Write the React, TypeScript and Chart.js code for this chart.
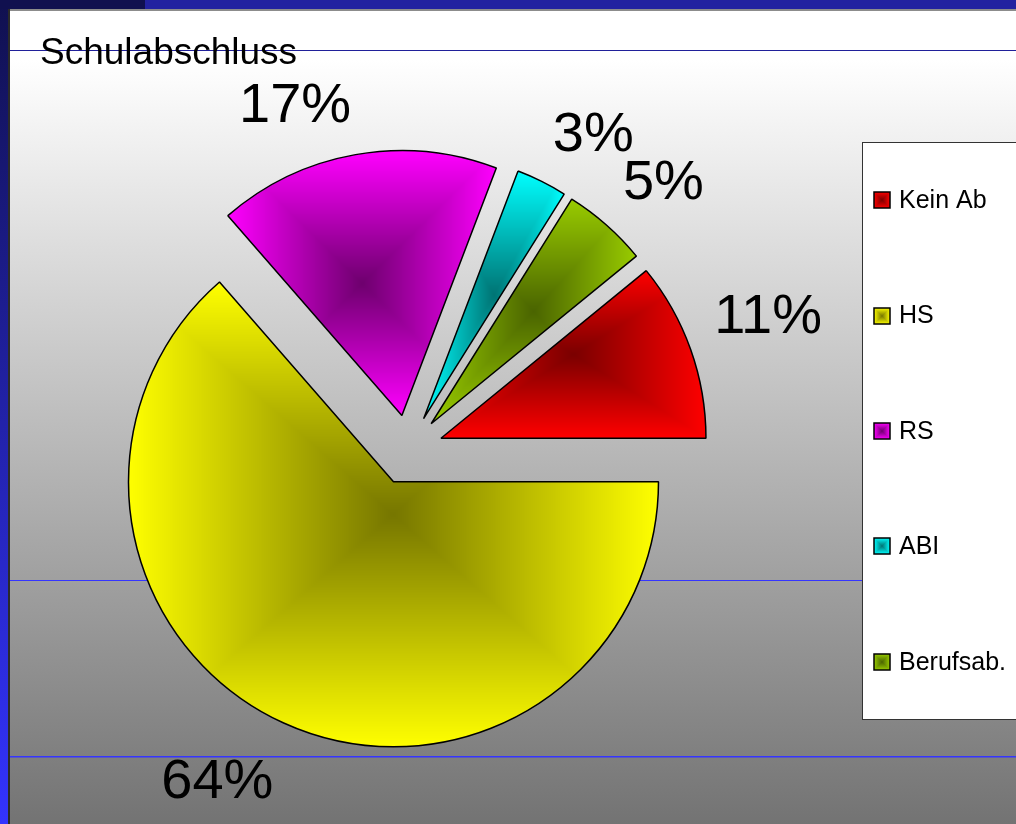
import React, { useEffect, useRef } from "react";
import { Chart, registerables } from "chart.js";

Chart.register(...registerables);

// ---------- data ----------
const TITLE = "Schulabschluss";
const categories = ["Kein Ab", "HS", "RS", "ABI", "Berufsab."];
const shares = [10.9, 63.6, 17.2, 3.1, 5.2];
const edgeColors = ["#ff0000", "#ffff00", "#ff00ff", "#00ffff", "#99cc00"];
const coreColors = ["#7a0000", "#767600", "#6e006e", "#007474", "#4a6400"];

// ---------- layout / style ----------
const W = 1016;
const H = 824;
const RADIUS = 265;
const EXPLODE = 35;
const LABEL_GAP = 25;
const LABEL_HALF_H = 30;
const FONT = "'Liberation Sans', Arial, Helvetica, sans-serif";
const total0 = shares.reduce((a, b) => a + b, 0);
// first slice ends at 3 o'clock, slices run clockwise
const ROTATION = 90 - (360 * shares[0]) / total0;

function hexToRgb(h: string): number[] {
  const s = h.replace("#", "");
  return [0, 2, 4].map((i) => parseInt(s.slice(i, i + 2), 16));
}

// rectangular ("path") gradient: dark core in the middle of the box, bright at the box edges
function rectGradientCanvas(bx: number, by: number, w: number, h: number, core: string, edge: string, pad: number) {
  const cw = Math.max(1, Math.ceil(w + pad * 2));
  const ch = Math.max(1, Math.ceil(h + pad * 2));
  const c = document.createElement("canvas");
  c.width = cw;
  c.height = ch;
  const g = c.getContext("2d")!;
  const img = g.createImageData(cw, ch);
  const a = hexToRgb(core);
  const b = hexToRgb(edge);
  const cx = bx + w / 2;
  const cy = by + h / 2;
  const hx = Math.max(w / 2, 0.5);
  const hy = Math.max(h / 2, 0.5);
  for (let py = 0; py < ch; py++) {
    const y = by - pad + py + 0.5;
    for (let px = 0; px < cw; px++) {
      const x = bx - pad + px + 0.5;
      const t = Math.min(1, Math.max(Math.abs(x - cx) / hx, Math.abs(y - cy) / hy));
      const k = (py * cw + px) * 4;
      img.data[k] = Math.round(a[0] + (b[0] - a[0]) * t);
      img.data[k + 1] = Math.round(a[1] + (b[1] - a[1]) * t);
      img.data[k + 2] = Math.round(a[2] + (b[2] - a[2]) * t);
      img.data[k + 3] = 255;
    }
  }
  g.putImageData(img, 0, 0);
  return c;
}

function makePattern(ctx: CanvasRenderingContext2D, bx: number, by: number, w: number, h: number, core: string, edge: string) {
  const pad = 3;
  const c = rectGradientCanvas(bx, by, w, h, core, edge, pad);
  const p = ctx.createPattern(c, "no-repeat")!;
  p.setTransform(new DOMMatrix([1, 0, 0, 1, bx - pad, by - pad]));
  return p;
}

const patternCache: Record<string, CanvasPattern> = {};

function slicePattern(context: any) {
  const chart = context.chart;
  const i = context.dataIndex;
  const area = chart.chartArea;
  if (!area) return edgeColors[i];
  const data: number[] = chart.data.datasets[0].data;
  const total = data.reduce((s, v) => s + v, 0);
  const cx = (area.left + area.right) / 2;
  const cy = (area.top + area.bottom) / 2;
  let a0 = ((ROTATION - 90) * Math.PI) / 180;
  for (let j = 0; j < i; j++) a0 += (data[j] / total) * Math.PI * 2;
  const a1 = a0 + (data[i] / total) * Math.PI * 2;
  const r = RADIUS;
  const pts: number[][] = [
    [cx, cy],
    [cx + r * Math.cos(a0), cy + r * Math.sin(a0)],
    [cx + r * Math.cos(a1), cy + r * Math.sin(a1)],
  ];
  const q = Math.PI / 2;
  for (let k = Math.ceil(a0 / q - 1e-9); k * q < a1 - 1e-9; k++) {
    pts.push([cx + r * Math.cos(k * q), cy + r * Math.sin(k * q)]);
  }
  const xs = pts.map((p) => p[0]);
  const ys = pts.map((p) => p[1]);
  const bx = Math.min(...xs);
  const by = Math.min(...ys);
  const w = Math.max(...xs) - bx;
  const h = Math.max(...ys) - by;
  const key = [i, bx, by, w, h].map((v) => Math.round(v)).join("_");
  if (!patternCache[key]) {
    patternCache[key] = makePattern(chart.ctx, bx, by, w, h, coreColors[i], edgeColors[i]);
  }
  return patternCache[key];
}

const decorPlugin = {
  id: "decor",
  beforeDraw(chart: any) {
    const ctx: CanvasRenderingContext2D = chart.ctx;
    ctx.save();
    // slide background
    const bg = ctx.createLinearGradient(0, 60, 0, H);
    bg.addColorStop(0, "#ffffff");
    bg.addColorStop(1, "#737373");
    ctx.fillStyle = bg;
    ctx.fillRect(0, 0, W, H);
    // frame
    ctx.fillStyle = "#10104f";
    ctx.fillRect(0, 0, 145, 9);
    ctx.fillStyle = "#2222a0";
    ctx.fillRect(145, 0, W - 145, 9);
    const lg = ctx.createLinearGradient(0, 0, 0, H);
    lg.addColorStop(0, "#10104f");
    lg.addColorStop(1, "#3333ff");
    ctx.fillStyle = lg;
    ctx.fillRect(0, 9, 8, H - 9);
    ctx.fillStyle = "#8c8c8c";
    ctx.fillRect(8, 9, W - 8, 2);
    ctx.fillStyle = "#2a2a2a";
    ctx.fillRect(8, 9, 2, H - 9);
    // template lines
    ctx.fillStyle = "#20209a";
    ctx.fillRect(10, 50, W - 10, 1);
    ctx.fillStyle = "#3535ff";
    ctx.fillRect(10, 580, W - 10, 1);
    ctx.fillRect(10, 756, W - 10, 1.5);
    ctx.restore();
  },
  beforeDatasetsDraw(chart: any) {
    const ctx: CanvasRenderingContext2D = chart.ctx;
    const meta = chart.getDatasetMeta(0);
    meta.data.forEach((arc: any) => {
      const { startAngle, endAngle } = arc.getProps(["startAngle", "endAngle"], true);
      const mid = (startAngle + endAngle) / 2;
      ctx.save();
      ctx.translate(Math.cos(mid) * EXPLODE, Math.sin(mid) * EXPLODE);
      arc.draw(ctx);
      ctx.restore();
    });
    return false;
  },
  afterDraw(chart: any) {
    const ctx: CanvasRenderingContext2D = chart.ctx;
    const meta = chart.getDatasetMeta(0);
    const data: number[] = chart.data.datasets[0].data;
    const total = data.reduce((s, v) => s + v, 0);
    ctx.save();
    // title
    ctx.fillStyle = "#000";
    ctx.font = `37px ${FONT}`;
    ctx.textAlign = "left";
    ctx.textBaseline = "alphabetic";
    ctx.fillText(TITLE, 40, 64);
    // percentage labels (outside end, box corner anchored on the ray)
    ctx.font = `56px ${FONT}`;
    ctx.textAlign = "center";
    ctx.textBaseline = "middle";
    meta.data.forEach((arc: any, i: number) => {
      const { x, y, startAngle, endAngle, outerRadius } = arc.getProps(
        ["x", "y", "startAngle", "endAngle", "outerRadius"],
        true
      );
      const mid = (startAngle + endAngle) / 2;
      const d = outerRadius + EXPLODE + LABEL_GAP;
      const txt = Math.round((data[i] / total) * 100) + "%";
      const tw = ctx.measureText(txt).width;
      const ax = x + Math.cos(mid) * d;
      const ay = y + Math.sin(mid) * d;
      const lx = ax + Math.sign(Math.cos(mid)) * tw / 2;
      const ly = ay + Math.sign(Math.sin(mid)) * LABEL_HALF_H;
      ctx.fillText(txt, lx, ly + 7);
    });
    // legend
    const bx = 862.5;
    const by = 142.5;
    const bw = 200;
    const bh = 577;
    ctx.fillStyle = "#ffffff";
    ctx.fillRect(bx, by, bw, bh);
    ctx.strokeStyle = "#333333";
    ctx.lineWidth = 1;
    ctx.strokeRect(bx, by, bw, bh);
    const labels: string[] = chart.data.labels;
    const step = bh / labels.length;
    ctx.font = `25px ${FONT}`;
    ctx.textAlign = "left";
    ctx.textBaseline = "middle";
    labels.forEach((lab, i) => {
      const cy = by + step * (i + 0.5);
      const mx = 874;
      const my = Math.round(cy - 8);
      const p = makePattern(ctx, mx, my, 16, 16, coreColors[i], edgeColors[i]);
      ctx.fillStyle = p;
      ctx.fillRect(mx, my, 16, 16);
      ctx.strokeStyle = "#000";
      ctx.lineWidth = 1.5;
      ctx.strokeRect(mx, my, 16, 16);
      ctx.fillStyle = "#000";
      ctx.fillText(lab, 899, cy + 1);
    });
    ctx.restore();
  },
};

export default function App() {
  const ref = useRef<HTMLCanvasElement>(null);
  useEffect(() => {
    const canvas = ref.current;
    if (!canvas) return;
    const chart = new Chart(canvas, {
      type: "pie",
      data: {
        labels: categories,
        datasets: [
          {
            data: shares,
            backgroundColor: slicePattern as any,
            borderColor: "#000000",
            borderWidth: 1.5,
            hoverOffset: 0,
            radius: RADIUS,
          } as any,
        ],
      },
      options: {
        responsive: false,
        maintainAspectRatio: false,
        animation: false,
        rotation: ROTATION,
        events: [],
        layout: { padding: { left: 100, top: 142, right: 300, bottom: 66 } },
        plugins: {
          legend: { display: false },
          title: { display: false },
          tooltip: { enabled: false },
        },
      } as any,
      plugins: [decorPlugin as any],
    });
    return () => chart.destroy();
  }, []);
  return (
    <div style={{ position: "fixed", left: 0, top: 0, width: W, height: H }}>
      <canvas ref={ref} width={W} height={H} style={{ display: "block", width: W, height: H }} />
    </div>
  );
}
